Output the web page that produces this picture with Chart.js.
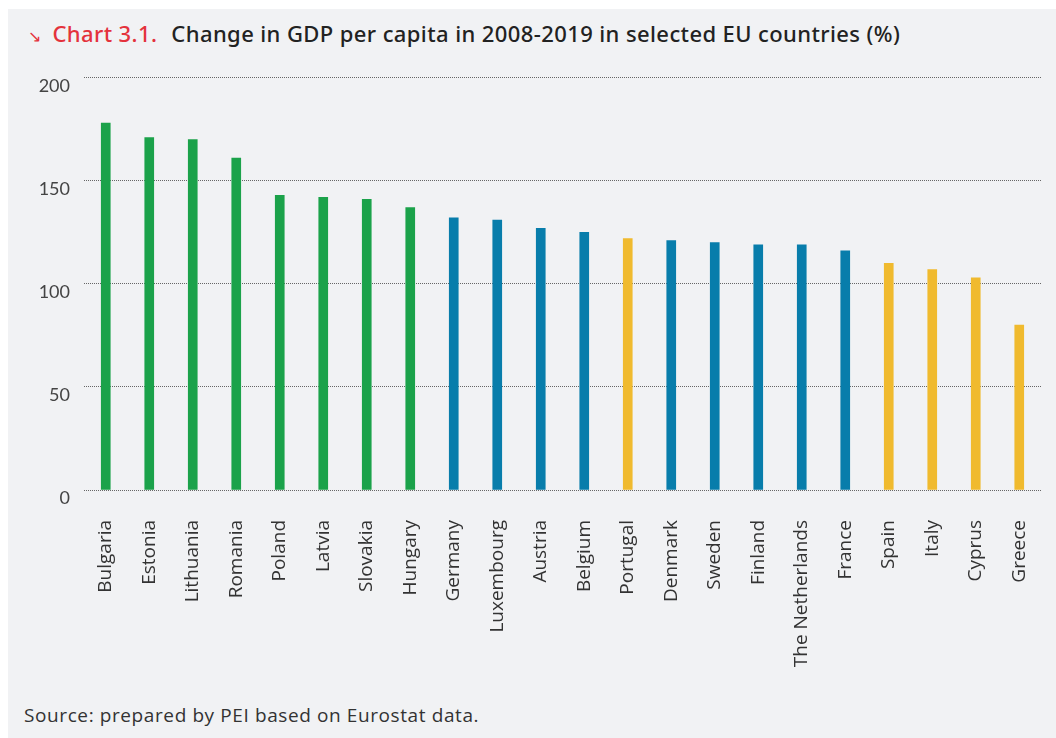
<!DOCTYPE html>
<html>
<head>
<meta charset="utf-8">
<script src="https://cdn.jsdelivr.net/npm/chart.js@4.4.1/dist/chart.umd.min.js"></script>
<style>
  html, body { margin: 0; padding: 0; background: #fff; }
  body { width: 1056px; height: 738px; position: relative; overflow: hidden; }
  #panel { position: absolute; left: 8px; top: 9px; width: 1048px; height: 729px; background: #f1f2f4; }
  #title { position: absolute; left: 20px; top: 9px; font-family: "Noto Sans", sans-serif; font-size: 22px; letter-spacing: 0.4px; font-weight: 500; color: #222; white-space: nowrap; }
  #title .num { color: #e4323c; margin-right: 14px; }
  #title .arrow { color: #e4323c; font-size: 16px; margin-right: 11px; }
  #chartWrap { position: absolute; left: 0; top: 44px; width: 1048px; height: 640px; }
  #source { position: absolute; left: 16px; top: 693px; font-family: "Open Sans", sans-serif; font-size: 19px; letter-spacing: 0.6px; color: #333; }
</style>
</head>
<body>
<div id="panel">
  <div id="title"><span class="arrow">&#8600;</span><span class="num">Chart 3.1.</span>Change in GDP per capita in 2008-2019 in selected EU countries (%)</div>
  <div id="chartWrap"><canvas id="chart"></canvas></div>
  <div id="source">Source: prepared by PEI based on Eurostat data.</div>
</div>
<script>
// chart data
const countries = ['Bulgaria', 'Estonia', 'Lithuania', 'Romania', 'Poland', 'Latvia', 'Slovakia', 'Hungary',
  'Germany', 'Luxembourg', 'Austria', 'Belgium', 'Portugal', 'Denmark', 'Sweden', 'Finland',
  'The Netherlands', 'France', 'Spain', 'Italy', 'Cyprus', 'Greece'];
const gdpChange = [178, 171, 170, 161, 143, 142, 141, 137, 132, 131, 127, 125, 122, 121, 120, 119, 119, 116, 110, 107, 103, 80];
const groups = ['cee', 'cee', 'cee', 'cee', 'cee', 'cee', 'cee', 'cee',
  'core', 'core', 'core', 'core', 'south', 'core', 'core', 'core',
  'core', 'core', 'south', 'south', 'south', 'south'];
const yTicks = [0, 50, 100, 150, 200];

const groupColours = { cee: '#1ba24a', core: '#087dab', south: '#f0ba2e' };

document.addEventListener('DOMContentLoaded', () => {
  const ctx = document.getElementById('chart').getContext('2d');
  new Chart(ctx, {
    type: 'bar',
    data: {
      labels: countries,
      datasets: [{
        data: gdpChange,
        backgroundColor: groups.map(g => groupColours[g]),
        barThickness: 9,
        borderWidth: 0
      }]
    },
    options: {
      responsive: true,
      maintainAspectRatio: false,
      animation: false,
      layout: { padding: { left: 0, right: 15, top: 18, bottom: 0 } },
      plugins: { legend: { display: false }, tooltip: { enabled: false } },
      scales: {
        x: {
          grid: { display: false },
          border: { display: false },
          ticks: {
            minRotation: 90, maxRotation: 90, autoSkip: false, padding: 22,
            color: '#333', font: { family: '"Open Sans", sans-serif', size: 19 }
          },
          afterFit: (scale) => {
            scale.height = 203;
            // let the plot run right up to the layout padding
            scale.paddingLeft = 0;
            scale.paddingRight = 0;
          }
        },
        y: {
          min: 0, max: 200,
          afterBuildTicks: (scale) => { scale.ticks = yTicks.map(v => ({ value: v })); },
          grid: { color: '#666', lineWidth: 1, drawTicks: false },
          border: { display: false, dash: [1, 1] },
          ticks: {
            padding: 14, labelOffset: 8, color: '#444',
            font: { family: 'Lato, sans-serif', size: 18 }
          },
          afterFit: (scale) => { scale.width = 76; }
        }
      }
    }
  });
});
</script>
</body>
</html>
